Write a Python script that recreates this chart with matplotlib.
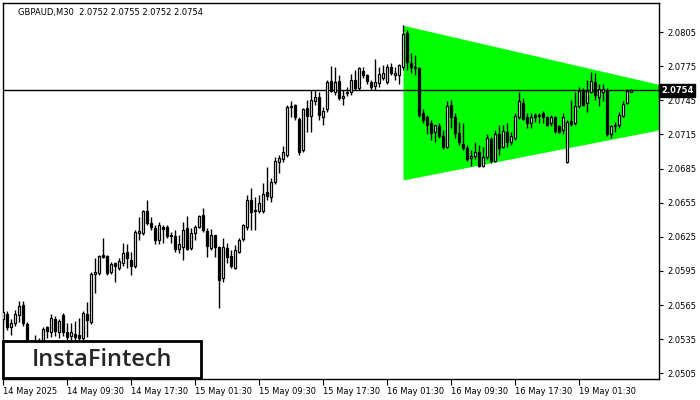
import numpy as np
import matplotlib
matplotlib.use("Agg")
import matplotlib.pyplot as plt
from matplotlib.patches import Rectangle

# GBPAUD M30 candles
opens = [2.0553, 2.0557, 2.0546, 2.0549, 2.0556, 2.0565, 2.0548, 2.0530, 2.0527, 2.0530,
         2.0532, 2.0546, 2.0541, 2.0553, 2.0541, 2.0556, 2.0541, 2.0538, 2.0540, 2.0539,
         2.0536, 2.0557, 2.0550, 2.0592, 2.0593, 2.0609, 2.0608, 2.0594, 2.0602, 2.0598,
         2.0602, 2.0612, 2.0605, 2.0599, 2.0628, 2.0628, 2.0648, 2.0637, 2.0633, 2.0622,
         2.0634, 2.0634, 2.0627, 2.0626, 2.0614, 2.0616, 2.0633, 2.0615, 2.0628, 2.0634,
         2.0644, 2.0630, 2.0615, 2.0627, 2.0616, 2.0589, 2.0615, 2.0608, 2.0598, 2.0612,
         2.0623, 2.0634, 2.0657, 2.0649, 2.0648, 2.0648, 2.0664, 2.0660, 2.0673, 2.0691,
         2.0693, 2.0697, 2.0739, 2.0741, 2.0729, 2.0701, 2.0738, 2.0731, 2.0744, 2.0748,
         2.0730, 2.0737, 2.0762, 2.0752, 2.0762, 2.0747, 2.0751, 2.0752, 2.0763, 2.0756,
         2.0771, 2.0767, 2.0761, 2.0758, 2.0760, 2.0765, 2.0761, 2.0774, 2.0767, 2.0767,
         2.0774, 2.0804, 2.0778, 2.0774, 2.0773, 2.0734, 2.0730, 2.0725, 2.0717, 2.0722,
         2.0714, 2.0704, 2.0741, 2.0730, 2.0716, 2.0707, 2.0703, 2.0694, 2.0696, 2.0700,
         2.0687, 2.0695, 2.0711, 2.0692, 2.0715, 2.0704, 2.0717, 2.0708, 2.0712, 2.0730,
         2.0743, 2.0730, 2.0725, 2.0732, 2.0731, 2.0734, 2.0730, 2.0725, 2.0730, 2.0722,
         2.0719, 2.0691, 2.0727, 2.0725, 2.0740, 2.0753, 2.0743, 2.0752, 2.0761, 2.0748,
         2.0752, 2.0754, 2.0715, 2.0722, 2.0723, 2.0731, 2.0743, 2.0752]
highs = [2.0560, 2.0560, 2.0553, 2.0561, 2.0569, 2.0569, 2.0550, 2.0534, 2.0539, 2.0536,
         2.0546, 2.0547, 2.0557, 2.0555, 2.0553, 2.0558, 2.0549, 2.0549, 2.0551, 2.0554,
         2.0560, 2.0568, 2.0594, 2.0606, 2.0609, 2.0624, 2.0609, 2.0603, 2.0603, 2.0606,
         2.0620, 2.0619, 2.0612, 2.0631, 2.0642, 2.0649, 2.0657, 2.0642, 2.0635, 2.0638,
         2.0635, 2.0635, 2.0629, 2.0631, 2.0627, 2.0638, 2.0643, 2.0633, 2.0635, 2.0644,
         2.0650, 2.0633, 2.0632, 2.0627, 2.0617, 2.0624, 2.0620, 2.0613, 2.0618, 2.0624,
         2.0636, 2.0662, 2.0668, 2.0660, 2.0662, 2.0672, 2.0686, 2.0677, 2.0695, 2.0697,
         2.0705, 2.0741, 2.0744, 2.0742, 2.0730, 2.0738, 2.0745, 2.0754, 2.0754, 2.0752,
         2.0739, 2.0763, 2.0775, 2.0774, 2.0767, 2.0754, 2.0757, 2.0768, 2.0772, 2.0774,
         2.0774, 2.0768, 2.0763, 2.0781, 2.0774, 2.0776, 2.0777, 2.0778, 2.0774, 2.0777,
         2.0811, 2.0807, 2.0787, 2.0785, 2.0774, 2.0737, 2.0732, 2.0728, 2.0723, 2.0725,
         2.0719, 2.0744, 2.0745, 2.0734, 2.0726, 2.0725, 2.0706, 2.0701, 2.0708, 2.0706,
         2.0704, 2.0715, 2.0713, 2.0719, 2.0723, 2.0723, 2.0725, 2.0717, 2.0734, 2.0752,
         2.0747, 2.0734, 2.0734, 2.0734, 2.0734, 2.0736, 2.0731, 2.0732, 2.0731, 2.0723,
         2.0734, 2.0728, 2.0745, 2.0752, 2.0757, 2.0756, 2.0763, 2.0770, 2.0769, 2.0759,
         2.0759, 2.0756, 2.0723, 2.0726, 2.0735, 2.0744, 2.0755, 2.0755]
lows = [2.0550, 2.0543, 2.0539, 2.0547, 2.0550, 2.0547, 2.0525, 2.0521, 2.0524, 2.0525,
        2.0530, 2.0536, 2.0537, 2.0538, 2.0536, 2.0538, 2.0534, 2.0534, 2.0534, 2.0534,
        2.0534, 2.0537, 2.0548, 2.0576, 2.0591, 2.0606, 2.0591, 2.0592, 2.0585, 2.0596,
        2.0599, 2.0598, 2.0591, 2.0598, 2.0622, 2.0627, 2.0635, 2.0631, 2.0619, 2.0619,
        2.0620, 2.0624, 2.0620, 2.0612, 2.0611, 2.0605, 2.0613, 2.0613, 2.0622, 2.0633,
        2.0629, 2.0607, 2.0613, 2.0607, 2.0562, 2.0585, 2.0602, 2.0598, 2.0597, 2.0611,
        2.0621, 2.0631, 2.0631, 2.0631, 2.0646, 2.0646, 2.0657, 2.0656, 2.0671, 2.0681,
        2.0691, 2.0695, 2.0730, 2.0728, 2.0697, 2.0700, 2.0717, 2.0717, 2.0741, 2.0728,
        2.0723, 2.0735, 2.0752, 2.0750, 2.0745, 2.0741, 2.0749, 2.0750, 2.0754, 2.0754,
        2.0765, 2.0759, 2.0754, 2.0754, 2.0757, 2.0763, 2.0759, 2.0767, 2.0763, 2.0759,
        2.0772, 2.0772, 2.0769, 2.0767, 2.0730, 2.0725, 2.0715, 2.0710, 2.0708, 2.0712,
        2.0702, 2.0703, 2.0721, 2.0712, 2.0706, 2.0701, 2.0692, 2.0687, 2.0693, 2.0686,
        2.0686, 2.0693, 2.0690, 2.0691, 2.0697, 2.0703, 2.0704, 2.0706, 2.0710, 2.0729,
        2.0728, 2.0721, 2.0721, 2.0726, 2.0725, 2.0725, 2.0722, 2.0722, 2.0716, 2.0716,
        2.0715, 2.0690, 2.0722, 2.0723, 2.0738, 2.0740, 2.0735, 2.0751, 2.0745, 2.0740,
        2.0744, 2.0714, 2.0712, 2.0717, 2.0721, 2.0730, 2.0742, 2.0752]
closes = [2.0559, 2.0546, 2.0549, 2.0557, 2.0564, 2.0549, 2.0530, 2.0525, 2.0530, 2.0532,
          2.0544, 2.0542, 2.0554, 2.0542, 2.0551, 2.0541, 2.0537, 2.0541, 2.0537, 2.0536,
          2.0558, 2.0552, 2.0592, 2.0594, 2.0608, 2.0607, 2.0593, 2.0601, 2.0599, 2.0604,
          2.0611, 2.0606, 2.0599, 2.0629, 2.0630, 2.0648, 2.0637, 2.0634, 2.0622, 2.0635,
          2.0632, 2.0626, 2.0626, 2.0614, 2.0619, 2.0631, 2.0614, 2.0628, 2.0634, 2.0643,
          2.0631, 2.0617, 2.0627, 2.0616, 2.0587, 2.0616, 2.0607, 2.0599, 2.0613, 2.0622,
          2.0635, 2.0657, 2.0647, 2.0648, 2.0655, 2.0663, 2.0661, 2.0673, 2.0692, 2.0694,
          2.0700, 2.0739, 2.0740, 2.0730, 2.0700, 2.0737, 2.0731, 2.0745, 2.0748, 2.0732,
          2.0736, 2.0761, 2.0753, 2.0761, 2.0747, 2.0749, 2.0752, 2.0763, 2.0756, 2.0773,
          2.0767, 2.0762, 2.0757, 2.0761, 2.0768, 2.0769, 2.0774, 2.0769, 2.0769, 2.0776,
          2.0803, 2.0779, 2.0774, 2.0773, 2.0732, 2.0728, 2.0723, 2.0716, 2.0723, 2.0714,
          2.0704, 2.0740, 2.0730, 2.0716, 2.0708, 2.0703, 2.0693, 2.0696, 2.0700, 2.0687,
          2.0695, 2.0712, 2.0692, 2.0715, 2.0703, 2.0718, 2.0708, 2.0714, 2.0731, 2.0744,
          2.0729, 2.0725, 2.0730, 2.0730, 2.0732, 2.0730, 2.0723, 2.0730, 2.0718, 2.0717,
          2.0730, 2.0726, 2.0724, 2.0740, 2.0753, 2.0741, 2.0753, 2.0762, 2.0750, 2.0755,
          2.0755, 2.0715, 2.0722, 2.0723, 2.0732, 2.0742, 2.0753, 2.0754]

# symmetrical triangle pattern (bar index, upper / lower edge)
pattern_x = [100, 164]
pattern_top = [2.0811, 2.0759]
pattern_bottom = [2.0675, 2.0719]

last_price = 2.0754
header = "GBPAUD,M30  2.0752 2.0755 2.0752 2.0754"

ytick_vals = [2.0505, 2.0535, 2.0565, 2.0595, 2.0625, 2.0655, 2.0685, 2.0715, 2.0745, 2.0775, 2.0805]
xtick_bars = [0, 16, 32, 48, 64, 80, 96, 112, 128, 144]
xtick_labels = ["14 May 2025", "14 May 09:30", "14 May 17:30", "15 May 01:30", "15 May 09:30",
                "15 May 17:30", "16 May 01:30", "16 May 09:30", "16 May 17:30", "19 May 01:30"]

o = np.array(opens)
h = np.array(highs)
l = np.array(lows)
c = np.array(closes)
idx = np.arange(len(o))

fig = plt.figure(figsize=(7, 4), dpi=100)
ax = fig.add_axes([2.5/700, 21/400, 656.5/700, 376.5/400])

# pattern fill
ax.fill_between(pattern_x, pattern_bottom, pattern_top, color="#00ff00", lw=0, zorder=1)

# price line
ax.axhline(last_price, color="black", lw=1, zorder=2)

# wicks
ax.vlines(idx, l, h, color="black", lw=1, zorder=3)

# bodies
up = c >= o
body_low = np.minimum(o, c)
body_h = np.maximum(np.abs(c - o), 0.00002)
ax.bar(idx[up], body_h[up], bottom=body_low[up], width=0.7, color="white",
       edgecolor="black", lw=0.9, zorder=4)
ax.bar(idx[~up], body_h[~up], bottom=body_low[~up], width=0.7, color="black",
       edgecolor="black", lw=0.9, zorder=4)

ax.set_xlim(-0.125, 164)
ax.set_ylim(2.0500, 2.0831)

ax.yaxis.tick_right()
ax.set_yticks(ytick_vals)
ax.set_yticklabels(["%.4f" % v for v in ytick_vals])
ax.tick_params(axis="y", direction="out", length=3, width=0.8, pad=3, labelsize=6)
ax.set_xticks(xtick_bars)
ax.set_xticklabels(xtick_labels)
ax.tick_params(axis="x", direction="out", length=4, width=0.8, pad=2, labelsize=6)
for lbl in ax.get_xticklabels():
    lbl.set_ha("left")

for s in ax.spines.values():
    s.set_color("black")
    s.set_linewidth(1)

# header text
ax.text(0.023, 0.985, header, transform=ax.transAxes, fontsize=6, va="top", ha="left")

# last price tag
ax.text(1.003, last_price, "2.0754", transform=ax.get_yaxis_transform(), fontsize=6,
        color="white", fontweight="bold", va="center", ha="left",
        bbox=dict(boxstyle="square,pad=0.25", fc="black", ec="black"), clip_on=False, zorder=6)

# logo box
fig.patches.append(Rectangle((3/700, 22/400), 198/700, 37/400, transform=fig.transFigure,
                             fc="white", ec="black", lw=2, zorder=10))
fig.text(102/700, 40/400, "InstaFintech", fontsize=17, family="Open Sans", fontweight="semibold",
         color="#262626", ha="center", va="center", zorder=11)

fig.savefig("out.png", dpi=100)
